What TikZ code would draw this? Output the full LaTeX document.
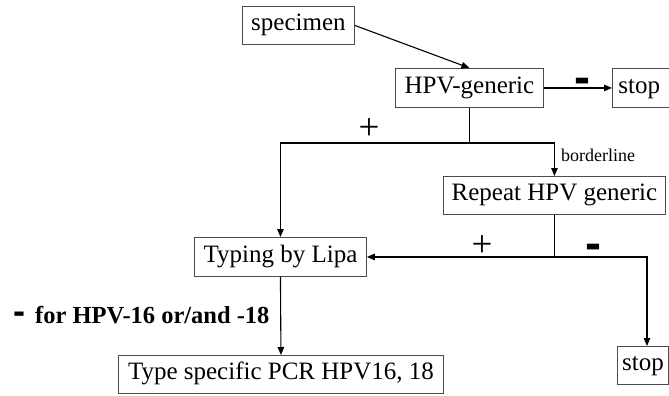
\documentclass[tikz,border=0pt]{standalone}
\usepackage{fontspec}
\setmainfont{Liberation Serif}
\newfontfamily\arialfont{Liberation Sans}
\usetikzlibrary{arrows.meta}
\begin{document}
\begin{tikzpicture}[x=1pt,y=-1pt,
  box/.style={draw=black!70,line width=0.9pt,anchor=north west,inner sep=0pt,
    font=\fontsize{25}{30}\selectfont,text height=17pt,text depth=6pt,align=center},
  conn/.style={line width=1.1pt},
  arr/.style={conn,-{Triangle[length=8pt,width=6.5pt]}},
  minus/.style={anchor=base,inner sep=0pt,font=\arialfont\bfseries\fontsize{48}{50}\selectfont},
  minussmall/.style={anchor=base,inner sep=0pt,font=\arialfont\bfseries\fontsize{36}{40}\selectfont},
  plus/.style={anchor=base,inner sep=0pt,font=\fontsize{37}{40}\selectfont}]
\useasboundingbox (0,0) rectangle (669,396);
% boxes
\node[box,minimum width=112pt,minimum height=38pt] (spec) at (242,6) {specimen};
\node[box,minimum width=148pt,minimum height=39pt] (hpv) at (395,68) {HPV-generic};
\node[box,minimum width=62pt,minimum height=39pt,text width=56pt,align=left] (stopa) at (612,68) {\hspace*{3pt}stop};
\node[box,minimum width=222pt,minimum height=38pt] (rep) at (443,176) {Repeat HPV generic};
\node[box,minimum width=172pt,minimum height=39pt] (typ) at (194,237) {Typing by Lipa};
\node[box,minimum width=325pt,minimum height=38pt] (tsp) at (118,355) {Type specific PCR HPV16, 18};
\node[box,minimum width=51pt,minimum height=38pt] (stopb) at (617,346) {stop};
% junctions
\coordinate (j1) at (hpv.south |- 0,143);
\coordinate (j2) at (rep.south |- typ.east);
\coordinate (c1) at (647,0 |- typ.east);
% connectors
\draw[arr] (spec.east) -- (hpv.north);
\draw[arr] (hpv.east) -- (stopa.west);
\draw[conn] (hpv.south) -- (j1);
\draw[arr] (j1) -| (typ.north);
\draw[arr] (j1) -| (rep.north);
\draw[conn] (rep.south) -- (j2);
\draw[arr] (j2) -- (typ.east);
\draw[arr] (j2) -- (c1) -- (c1 |- stopb.north);
\draw[arr] (typ.south) -- (tsp.north);
% labels
\node[minus] (m1) at (582,93.5) {-};
\node[plus] (p1) at (369,139) {+};
\node[anchor=west,inner sep=0pt,font=\fontsize{18}{20}\selectfont] (bl) at (561,155) {borderline};
\node[plus] (p2) at (482,256) {+};
\node[minus] (m2) at (593,259.5) {-};
\node[minussmall] (m3) at (19,323) {-};
\node[anchor=west,inner sep=0pt,font=\bfseries\fontsize{24.5}{28}\selectfont] (note) at (35,315) {for HPV-16 or/and -18};
\end{tikzpicture}
\end{document}
